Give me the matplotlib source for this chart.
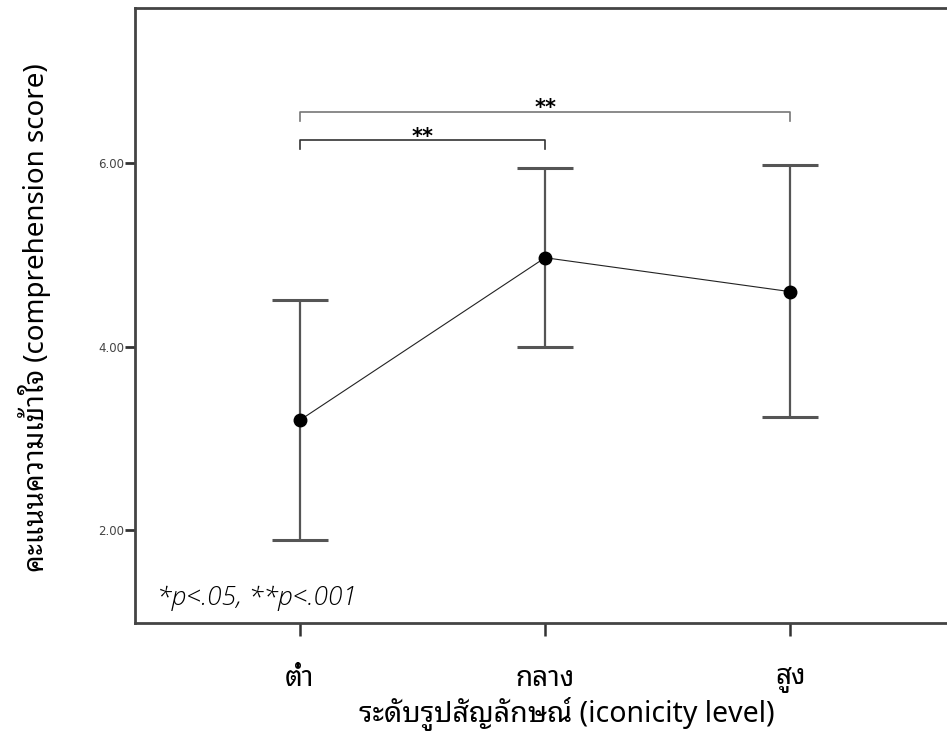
import matplotlib
matplotlib.use('Agg')
import matplotlib.pyplot as plt
from matplotlib import font_manager
from matplotlib.ft2font import FT2Font

levels = ['ต่ำ', 'กลาง', 'สูง']
means = [3.20, 4.97, 4.60]
upper = [4.51, 5.95, 5.98]
lower = [1.90, 4.00, 3.23]
yticks = [2.0, 4.0, 6.0]
brackets = [(0, 1, 6.25, '**'), (0, 2, 6.56, '**')]

# find something that can draw Thai
thai = None
for f in font_manager.fontManager.ttflist:
    try:
        if 0x0E15 in FT2Font(f.fname).get_charmap() and f.style == 'normal':
            thai = f.name
            if 'Noto Sans Thai' in f.name:
                break
    except Exception:
        pass
fam = [thai, 'DejaVu Sans'] if thai else ['DejaVu Sans']
plt.rcParams['font.family'] = fam

# an italic face for the p-value note
ital = 'DejaVu Sans'
have_italic = {f.name for f in font_manager.fontManager.ttflist if f.style in ('italic', 'oblique')}
for name in ['Open Sans', 'Noto Sans', 'Lato', 'Roboto']:
    if name in have_italic:
        ital = name
        break

fig = plt.figure(figsize=(9.47, 7.31), dpi=100)
ax = fig.add_axes([0.1426, 0.1477, 0.866, 0.8413])

x = list(range(len(levels)))
err = [[m - lo for m, lo in zip(means, lower)], [u - m for m, u in zip(means, upper)]]
ax.errorbar(x, means, yerr=err, fmt='none', ecolor='#555555', elinewidth=1.6,
            capsize=20.5, capthick=2.2, zorder=2)
ax.plot(x, means, color='#222222', lw=0.8, zorder=3)
ax.plot(x, means, 'o', color='black', ms=9, zorder=4)

for (a, b, y, s), c in zip(brackets, ['#333333', '#777777']):
    ax.plot([a, a, b, b], [y - 0.1, y, y, y - 0.1], color=c, lw=1.2)
    ax.text((a + b) / 2, y - 0.07, s, ha='center', va='bottom', fontsize=15,
            fontweight='bold', family='DejaVu Sans')

ax.set_xlim(-0.672, 2.672)
ax.set_ylim(0.99, 7.69)
ax.set_xticks(x)
ax.set_xticklabels(levels, fontsize=20)
ax.set_yticks(yticks)
ax.set_yticklabels(['%.2f' % v for v in yticks], fontsize=8.5, color='#444444',
                   family='DejaVu Sans')
ax.tick_params(axis='y', length=7, width=2, color='#333333', pad=1)
ax.tick_params(axis='x', length=9, width=1.8, color='#333333', pad=21)
for sp in ['left', 'bottom', 'top']:
    ax.spines[sp].set_linewidth(2)
    ax.spines[sp].set_color('#444444')
ax.spines['right'].set_visible(False)

ax.set_xlabel('ระดับรูปสัญลักษณ์ (iconicity level)', fontsize=20.5)
ax.xaxis.set_label_coords(0.527, -0.12)
ax.set_ylabel('คะแนนความเข้าใจ (comprehension score)', fontsize=20)
ax.yaxis.set_label_coords(-0.102, 0.497)
ax.text(0.027, 0.02, '*p<.05, **p<.001', transform=ax.transAxes, fontsize=19,
        style='italic', fontweight='light', ha='left', va='bottom', family=ital)

fig.savefig('out.png', dpi=100)
